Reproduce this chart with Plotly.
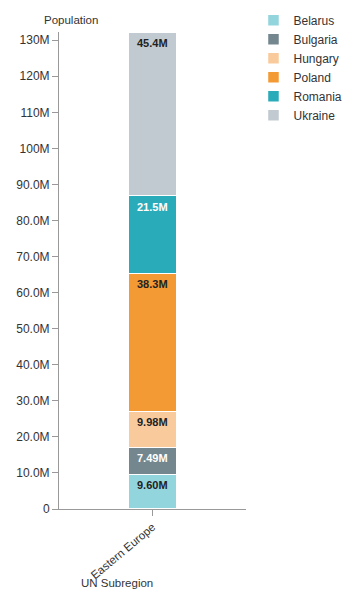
import plotly.graph_objects as go
import numpy as np

countries = ["Belarus", "Bulgaria", "Hungary", "Poland", "Romania", "Ukraine"]
values = [9.60e6, 7.49e6, 9.98e6, 38.3e6, 21.5e6, 45.4e6]
labels = ["9.60M", "7.49M", "9.98M", "38.3M", "21.5M", "45.4M"]
colors = ["#93d5dc", "#74878f", "#f9cb9c", "#f39a35", "#2aabb9", "#c0cad0"]
text_colors = ["#222", "#fff", "#222", "#222", "#fff", "#222"]
category = ["Eastern Europe"]
tick_vals = [0, 10e6, 20e6, 30e6, 40e6, 50e6, 60e6, 70e6, 80e6, 90e6, 100e6, 110e6, 120e6, 130e6]
tick_text = ["0", "10.0M", "20.0M", "30.0M", "40.0M", "50.0M", "60.0M", "70.0M", "80.0M", "90.0M", "100M", "110M", "120M", "130M"]

FONT = "Liberation Sans"
# page body has an 8px margin: compensate
W, H = 355 - 8, 598 - 8
fig = go.Figure()
for c, v, col in zip(countries, values, colors):
    fig.add_trace(go.Bar(
        x=category, y=[v], name=c,
        marker=dict(color=col, line=dict(color="white", width=1.5)),
        hoverinfo="name+y",
    ))

tops = np.cumsum(values)
annotations = []
for top, l, tc in zip(tops, labels, text_colors):
    annotations.append(dict(x=category[0], y=top, xref="x", yref="y", text=l,
                            showarrow=False, yanchor="top", yshift=-3,
                            font=dict(size=11, color=tc, family=FONT, weight="bold")))
annotations.append(dict(text="Population", xref="paper", yref="paper", x=-0.09, y=1.008,
                        xanchor="left", yanchor="bottom", showarrow=False,
                        font=dict(size=11.5, color="#333")))
annotations.append(dict(text="UN Subregion", xref="paper", yref="paper", x=0.31, y=-0.155,
                        xanchor="center", yanchor="middle", showarrow=False,
                        font=dict(size=11.5, color="#333")))

fig.update_layout(
    width=W, height=H,
    barmode="stack", bargap=0.745,
    margin=dict(l=51, r=109, t=24, b=89, autoexpand=False),
    plot_bgcolor="white", paper_bgcolor="white",
    font=dict(family=FONT, size=12, color="#333"),
    showlegend=True,
    legend=dict(traceorder="normal", x=1.04, xanchor="left",
                y=1.055, yanchor="top",
                font=dict(size=12, color="#333", family=FONT), itemwidth=30, tracegroupgap=0,
                bgcolor="rgba(0,0,0,0)"),
    xaxis=dict(showline=True, linecolor="#999", linewidth=1, ticks="outside",
               tickcolor="#999", ticklen=6, tickangle=-40, showgrid=False, automargin=False,
               tickfont=dict(size=11.5, color="#333")),
    yaxis=dict(range=[0, sum(values)], showline=True, linecolor="#999", linewidth=1,
               ticks="outside", tickcolor="#999", ticklen=6, showgrid=False, automargin=False,
               tickvals=tick_vals, ticktext=tick_text, zeroline=False,
               tickfont=dict(size=12, color="#333")),
    annotations=annotations,
)
fig.write_html("out.html")
